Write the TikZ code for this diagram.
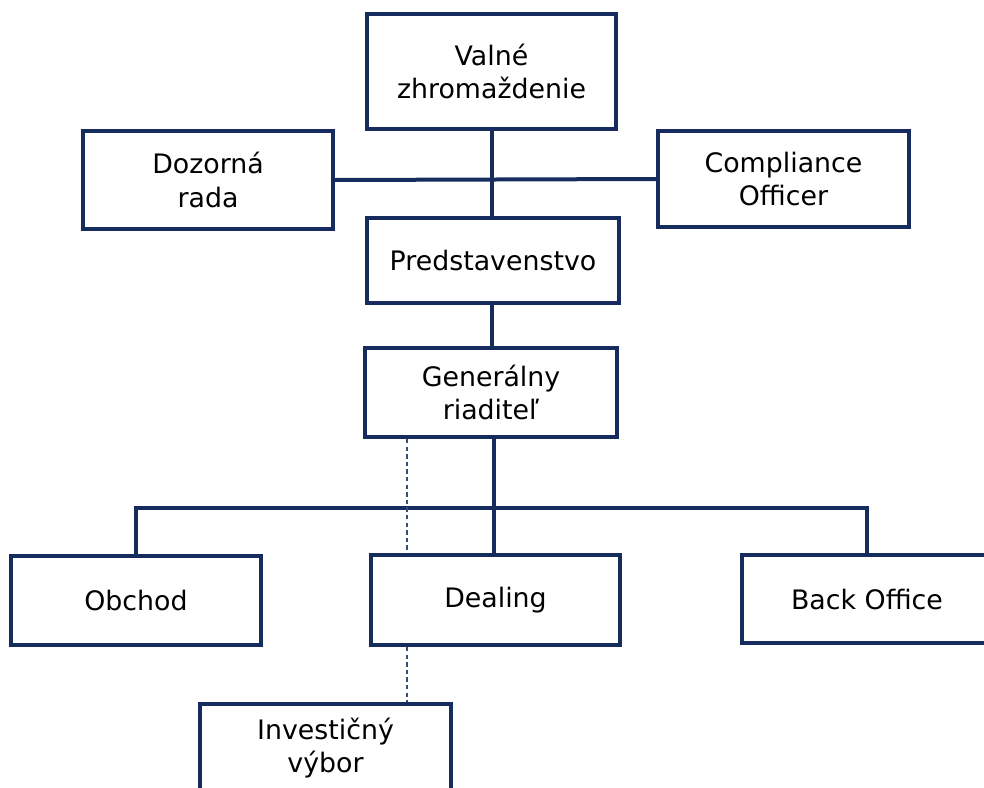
\documentclass[tikz,border=0pt]{standalone}
\usepackage{fontspec}
\setmainfont{DejaVu Sans}
\definecolor{navy}{RGB}{22,44,94}
\begin{document}
\begin{tikzpicture}[x=0.5pt,y=-0.5pt,
  orgbox/.style={draw=navy, line width=2pt, fill=white, align=center,
    font=\fontsize{13.4}{16.8}\selectfont, inner sep=0pt},
  link/.style={draw=navy, line width=2pt},
  dashlink/.style={draw=navy!85!white, line width=0.7pt, dash pattern=on 2.2pt off 1.6pt}]
\useasboundingbox (0,0) rectangle (984,787);
\clip (0,0) rectangle (984,787);
\coordinate (bus) at (494,508);
\coordinate (dx) at (407,0);
% nodes
\node[orgbox, minimum width=249*0.5pt, minimum height=115*0.5pt] (valne) at (491.5,71.5) {Valné\\zhromaždenie};
\node[orgbox, minimum width=250*0.5pt, minimum height=98*0.5pt] (dozorna) at (208,180) {Dozorná\\rada};
\node[orgbox, minimum width=251*0.5pt, minimum height=96*0.5pt] (compl) at (783.5,179) {Compliance\\Officer};
\node[orgbox, minimum width=252*0.5pt, minimum height=85*0.5pt] (pred) at (493,260.5) {Predstavenstvo};
\node[orgbox, minimum width=252*0.5pt, minimum height=89*0.5pt] (gen) at (491,392.5) {Generálny\\riaditeľ};
\node[orgbox, minimum width=250*0.5pt, minimum height=89*0.5pt] (obchod) at (136,600.5) {Obchod};
\node[orgbox, minimum width=249*0.5pt, minimum height=90*0.5pt] (dealing) at (495.5,600) {Dealing};
\node[orgbox, minimum width=250*0.5pt, minimum height=88*0.5pt] (back) at (867,599) {Back Office};
\node[orgbox, minimum width=251*0.5pt, minimum height=88*0.5pt] (invest) at (325.5,748) {Investičný\\výbor};
% connectors
\draw[link] (valne.south) -- (valne.south |- pred.north);
\draw[link] (dozorna.east) -- (compl.west);
\draw[link] (pred.south -| valne.south) -- (gen.north -| valne.south);
\draw[link] (gen.south -| bus) -- (dealing.north -| bus);
\draw[link] (obchod.north) -- (obchod.north |- bus) -- (back.north |- bus) -- (back.north);
\draw[dashlink] (dx |- gen.south) -- (dx |- dealing.north);
\draw[dashlink] (dx |- dealing.south) -- (dx |- invest.north);
\end{tikzpicture}
\end{document}
